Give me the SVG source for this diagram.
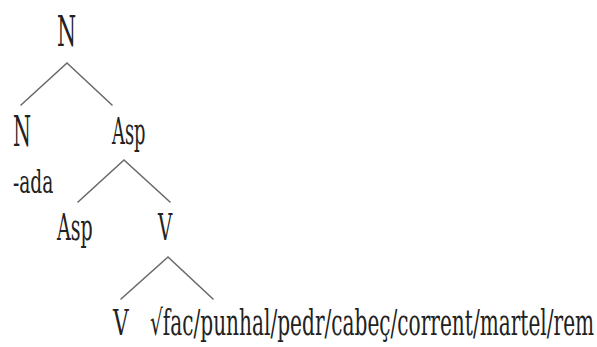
<svg xmlns="http://www.w3.org/2000/svg" width="597" height="347" viewBox="0 0 597 347">
<style>
text{fill:#222222;}
.big{font-size:43px;}
.mid{font-size:38px;}
.low{font-size:35px;}
.sm{font-size:31px;}
.edge{stroke:#6a6a6a;stroke-width:1.6;fill:none;stroke-linecap:round;}
</style>
<rect width="597" height="347" fill="#ffffff"/>
<g id="connectors">
<path class="edge" d="M21,105 L67,63 L112,105"/>
<path class="edge" d="M78,202 L124,160 L170,202"/>
<path class="edge" d="M121,299 L168,257 L213,299"/>
</g>
<g font-family="'DejaVu Serif', serif">
<g id="node-N-root"><text class="big" transform="translate(57,46) scale(0.51,1)">N</text></g>
<g id="node-N"><text class="big" transform="translate(13,146) scale(0.48,1)">N</text></g>
<g id="node-ada"><text class="sm" transform="translate(13,193) scale(0.6,1)">-ada</text></g>
<g id="node-Asp"><text class="mid" transform="translate(112,144) scale(0.47,1)">Asp</text></g>
<g id="node-Asp2"><text class="mid" transform="translate(57,240) scale(0.5,1)">Asp</text></g>
<g id="node-V"><text class="mid" transform="translate(158,240) scale(0.52,1)">V</text></g>
<g id="node-V2"><text class="low" transform="translate(113,335) scale(0.62,1)">V</text></g>
<g id="node-root"><text class="low" transform="translate(150,335) scale(0.575,1)">√fac/punhal/pedr/cabeç/corrent/martel/rem</text></g>
</g>
</svg>
